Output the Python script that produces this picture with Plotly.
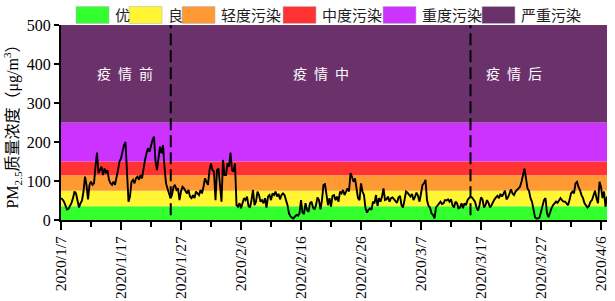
import pandas as pd
import plotly.graph_objects as go

# ---------------- data ----------------
# PM2.5 readings, one every 6 hours from 2020-01-07 00:00
pm25_jan = [56, 53, 47, 36, 27, 29, 36, 44, 56, 73, 68, 47, 32, 43, 50, 73,
            111, 90, 53, 90, 98, 90, 94, 137, 173, 120, 128, 137, 115, 132, 120, 128,
            103, 94, 90, 98, 90, 115, 128, 150, 158, 175, 192, 200, 128, 47, 60, 98,
            103, 94, 107, 111, 103, 115, 107, 137, 154, 171, 184, 175, 192, 205, 214, 150,
            128, 162, 188, 171, 192, 137, 94, 81, 68, 56, 64, 85, 90, 77, 81, 51,
            73, 85, 81, 73, 68, 77, 60, 56]
pm25_feb = [64, 56, 73, 68, 64, 77, 68, 85, 107, 98, 90, 128, 145, 128, 124, 51,
            128, 132, 90, 47, 154, 115, 115, 145, 137, 173, 128, 124, 145, 38, 34, 43,
            30, 47, 56, 51, 60, 36, 32, 51, 77, 38, 47, 73, 64, 47, 51, 43,
            56, 32, 60, 64, 51, 68, 64, 73, 60, 67, 53, 64, 68, 64, 51, 38,
            17, 9, 6, 4, 9, 13, 11, 17, 51, 19, 15, 43, 26, 21, 43, 47,
            32, 27, 38, 58, 51, 27, 51, 90, 92, 60, 38, 56]
pm25_mar = [34, 62, 64, 51, 60, 47, 73, 68, 77, 64, 73, 81, 73, 120, 111, 98,
            107, 85, 56, 51, 94, 73, 64, 30, 19, 26, 30, 26, 47, 43, 64, 36,
            56, 47, 60, 81, 51, 53, 60, 47, 56, 58, 53, 47, 44, 58, 62, 38,
            32, 51, 73, 70, 64, 60, 67, 51, 60, 70, 62, 47, 68, 90, 94, 103,
            51, 36, 32, 17, 13, 4, 32, 38, 44, 47, 41, 43, 51, 50, 53, 47,
            53, 38, 32, 47, 43, 30, 32, 43]
pm25_apr = [30, 43, 38, 51, 56, 60, 58, 51, 47, 32, 24, 38, 58, 53, 32, 38,
            51, 44, 32, 38, 47, 53, 58, 62, 56, 67, 60, 70, 75, 53, 58, 68,
            79, 68, 64, 73, 77, 81, 85, 98, 120, 132, 107, 81, 75, 56, 47, 21,
            7, 4, 4, 6, 21, 34, 51, 56, 17, 7, 21, 30, 38, 43, 47, 44,
            51, 56, 51, 47, 47, 41, 38, 51, 68, 73, 68, 94, 98, 85, 77, 64,
            56, 43, 38, 32, 36, 47, 51, 64, 75, 56, 43, 98, 85, 56, 73, 34,
            60]
pm25 = pm25_jan + pm25_feb + pm25_mar + pm25_apr
times = pd.date_range("2020-01-07", periods=len(pm25), freq="6h")

# air-quality grades (lower bound, upper bound, label)
grade_labels = ["优", "良", "轻度污染", "中度污染", "重度污染", "严重污染"]
grade_lower = [0, 35, 75, 115, 150, 250]
grade_upper = [35, 75, 115, 150, 250, 500]
grade_colors = ["#33FF2F", "#FFF533", "#FF9933", "#FF3333", "#CC33FF", "#6B316B"]

# epidemic periods
period_bounds = ["2020-01-25 07:00", "2020-03-15 06:00"]
period_labels = ["疫\u2002情\u2002前", "疫\u2002情\u2002中", "疫\u2002情\u2002后"]
period_label_x = ["2020-01-17 16:00", "2020-02-19 08:00", "2020-03-22 12:00"]
period_label_y = 378

tick_dates = ["2020-01-07", "2020-01-17", "2020-01-27", "2020-02-06", "2020-02-16",
              "2020-02-26", "2020-03-07", "2020-03-17", "2020-03-27", "2020-04-06"]
tick_labels = ["2020/1/7", "2020/1/17", "2020/1/27", "2020/2/6", "2020/2/16",
               "2020/2/26", "2020/3/7", "2020/3/17", "2020/3/27", "2020/4/6"]

# ---------------- figure ----------------
W, H = 615, 301
L, R, T, B = 61, 8, 25, 81
pw, ph = W - L - R, H - T - B

def px_x(p):
    return (p - L) / pw

def px_y(p):
    return (H - B - p) / ph

serif = "Liberation Serif"
cjk = "Noto Sans CJK SC"

fig = go.Figure()
fig.add_trace(go.Scatter(x=times, y=pm25, mode="lines",
                         line=dict(color="black", width=1.9), showlegend=False,
                         hoverinfo="skip"))

shapes = []
for lo, hi, c in zip(grade_lower, grade_upper, grade_colors):
    shapes.append(dict(type="rect", xref="paper", yref="y", x0=0, x1=1, y0=lo, y1=hi,
                       fillcolor=c, line=dict(width=0), layer="below"))
for xb in period_bounds:
    shapes.append(dict(type="line", xref="x", yref="y", x0=xb, x1=xb, y0=12, y1=500,
                       line=dict(color="black", width=2, dash="12px,5px")))

annotations = []
for txt, xv in zip(period_labels, period_label_x):
    annotations.append(dict(x=xv, y=period_label_y, xref="x", yref="y", text=txt,
                            showarrow=False, font=dict(family=cjk, size=14, color="white")))

# manual legend row above the plot
box_left = [76, 129, 182, 283, 383, 482]
for bx, lab, c in zip(box_left, grade_labels, grade_colors):
    shapes.append(dict(type="rect", xref="paper", yref="paper",
                       x0=px_x(bx), x1=px_x(bx + 33), y0=px_y(23.5), y1=px_y(6.5),
                       fillcolor=c, line=dict(color="#bbbbbb", width=0.6)))
    annotations.append(dict(x=px_x(bx + 37), y=px_y(15), xref="paper", yref="paper",
                            text=lab, showarrow=False, xanchor="left", yanchor="middle",
                            font=dict(family=cjk, size=15, color="#222")))

fig.update_layout(
    width=W, height=H,
    margin=dict(l=L, r=R, t=T, b=B, pad=0, autoexpand=False),
    paper_bgcolor="white", plot_bgcolor="white",
    shapes=shapes, annotations=annotations,
    showlegend=False,
    xaxis=dict(range=["2020-01-07", "2020-04-07"], tickmode="array", automargin=False,
               tickvals=tick_dates, ticktext=tick_labels, tickangle=-90,
               ticks="outside", ticklen=8, tickwidth=2, tickcolor="black",
               showline=True, linecolor="black", linewidth=2, showgrid=False,
               zeroline=False, tickfont=dict(family=serif, size=15.5, color="black"),
               minor=dict(ticks="outside", ticklen=5, tickwidth=1.5, tickcolor="black",
                          tickmode="linear", tick0="2020-01-07", dtick=5 * 86400000,
                          showgrid=False)),
    yaxis=dict(range=[0, 500], tickmode="array", tickvals=[0, 100, 200, 300, 400, 500],
               automargin=False,
               ticks="outside", ticklen=5, tickwidth=2, tickcolor="black",
               showline=True, linecolor="black", linewidth=2, showgrid=False,
               zeroline=False, tickfont=dict(family=serif, size=16, color="black"),
               title=dict(text="PM<sub>2.5</sub>质量浓度（μg/m<sup>3</sup>）",
                          font=dict(family="Liberation Serif, Noto Sans CJK SC", size=16,
                                    color="black"), standoff=4)),
)

fig.write_html("out.html", config={"displayModeBar": False},
               post_script="document.body.style.margin='0';document.body.style.overflow='hidden';")
